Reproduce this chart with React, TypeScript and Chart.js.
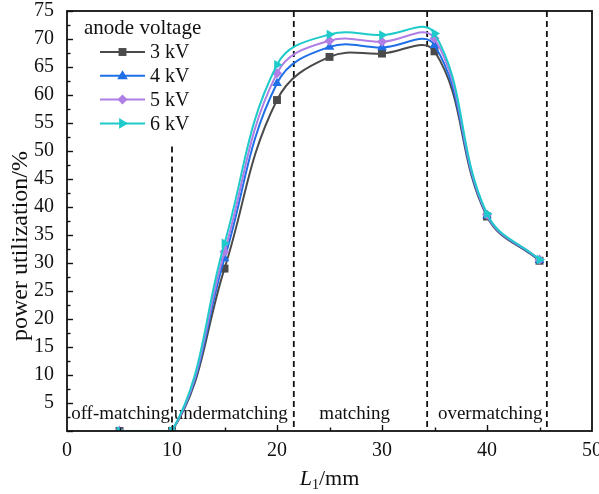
import React, { useEffect, useRef } from 'react';
import { Chart, registerables } from 'chart.js';

Chart.register(...registerables);

// ---- data ----
const xValues = [5, 10, 15, 20, 25, 30, 35, 40, 45];
const series3kV = [0, 0, 29.0, 59.1, 66.8, 67.4, 67.8, 38.3, 30.4];
const series4kV = [0, 0, 30.8, 62.1, 68.6, 68.5, 68.9, 38.5, 30.5];
const series5kV = [0, 0, 32.0, 63.9, 69.7, 69.5, 70.1, 38.6, 30.6];
const series6kV = [0, 0, 33.5, 65.4, 70.8, 70.7, 71.0, 38.8, 30.6];
const seriesLabels = ['3 kV', '4 kV', '5 kV', '6 kV'];
const legendTitle = 'anode voltage';

const boundaryX = [10, 21.6, 34.3, 45.7];
const boundaryFromY = [50.8, 75, 75, 75];
const regionLabels = ['off-matching', 'undermatching', 'matching', 'overmatching'];
const regionCenterX = [5.1, 15.6, 27.4, 40.3];
const regionLabelY = 3.1;

const xTitleMain = 'L';
const xTitleSub = '1';
const xTitleUnit = '/mm';
const yTitle = 'power utilization/%';

// ---- styles ----
const seriesData = [series3kV, series4kV, series5kV, series6kV];
const seriesColors = ['#4a4a4a', '#1f6fe6', '#b07fe6', '#1ecaca'];
const seriesMarkers = ['rect', 'triangle', 'rectRot', 'triangleRight'];
const markerRadius = [5.6, 5.6, 5, 5.6];
const SERIF = '"Liberation Serif", "Times New Roman", serif';

function drawMarker(ctx: CanvasRenderingContext2D, type: string, x: number, y: number, r: number, color: string) {
  ctx.save();
  ctx.fillStyle = color;
  ctx.beginPath();
  if (type === 'rect') {
    const s = r * Math.SQRT1_2;
    ctx.rect(x - s, y - s, 2 * s, 2 * s);
  } else if (type === 'rectRot') {
    ctx.moveTo(x, y - r);
    ctx.lineTo(x + r, y);
    ctx.lineTo(x, y + r);
    ctx.lineTo(x - r, y);
    ctx.closePath();
  } else if (type === 'triangle') {
    ctx.moveTo(x, y - r);
    ctx.lineTo(x + r * 0.95, y + r * 0.6);
    ctx.lineTo(x - r * 0.95, y + r * 0.6);
    ctx.closePath();
  } else {
    ctx.moveTo(x + r, y);
    ctx.lineTo(x - r * 0.6, y + r * 0.95);
    ctx.lineTo(x - r * 0.6, y - r * 0.95);
    ctx.closePath();
  }
  ctx.fill();
  ctx.restore();
}

const decorPlugin = {
  id: 'decor',
  beforeDatasetsDraw(chart: any) {
    const { ctx, chartArea, scales } = chart;
    const xs = scales.x;
    const ys = scales.y;
    ctx.save();
    ctx.strokeStyle = '#111';
    ctx.lineWidth = 1.8;
    ctx.setLineDash([6, 4]);
    boundaryX.forEach((bx, i) => {
      const px = xs.getPixelForValue(bx);
      ctx.beginPath();
      ctx.moveTo(px, ys.getPixelForValue(boundaryFromY[i]));
      ctx.lineTo(px, chartArea.bottom);
      ctx.stroke();
    });
    ctx.setLineDash([]);
    ctx.fillStyle = '#111';
    ctx.font = '19px ' + SERIF;
    ctx.textAlign = 'center';
    ctx.textBaseline = 'middle';
    regionLabels.forEach((t, i) => {
      ctx.fillText(t, xs.getPixelForValue(regionCenterX[i]), ys.getPixelForValue(regionLabelY));
    });
    ctx.restore();
  },
  afterDatasetsDraw(chart: any) {
    const { ctx, chartArea, scales } = chart;
    const xs = scales.x;
    const ys = scales.y;
    ctx.save();
    ctx.strokeStyle = '#111';
    ctx.lineWidth = 1.8;
    ctx.strokeRect(chartArea.left, chartArea.top, chartArea.right - chartArea.left, chartArea.bottom - chartArea.top);
    ctx.lineWidth = 1.4;
    for (let v = 0; v <= 75; v += 2.5) {
      const py = Math.round(ys.getPixelForValue(v)) + 0.5;
      const len = v % 5 === 0 ? 6 : 3.5;
      ctx.beginPath();
      ctx.moveTo(chartArea.left, py);
      ctx.lineTo(chartArea.left + len, py);
      ctx.stroke();
    }
    for (let v = 5; v < 50; v += 5) {
      const px = Math.round(xs.getPixelForValue(v)) + 0.5;
      const len = v % 10 === 0 ? 6 : 3.5;
      ctx.beginPath();
      ctx.moveTo(px, chartArea.bottom);
      ctx.lineTo(px, chartArea.bottom - len);
      ctx.stroke();
    }
    ctx.restore();
  },
  afterDraw(chart: any) {
    const { ctx, chartArea } = chart;
    ctx.save();
    ctx.fillStyle = '#111';
    ctx.textBaseline = 'middle';
    ctx.textAlign = 'left';
    ctx.font = '21px ' + SERIF;
    ctx.fillText(legendTitle, 84, 28);
    ctx.font = '20px ' + SERIF;
    seriesLabels.forEach((lab, i) => {
      const y = 52 + i * 23.8;
      ctx.strokeStyle = seriesColors[i];
      ctx.lineWidth = 2;
      ctx.beginPath();
      ctx.moveTo(100, y);
      ctx.lineTo(145, y);
      ctx.stroke();
      drawMarker(ctx, seriesMarkers[i], 122.5, y, markerRadius[i], seriesColors[i]);
      ctx.fillStyle = '#111';
      ctx.fillText(lab, 150, y + 1);
    });
    const cx = (chartArea.left + chartArea.right) / 2;
    const base = 485;
    ctx.textBaseline = 'alphabetic';
    ctx.font = 'italic 22px ' + SERIF;
    const wL = ctx.measureText(xTitleMain).width;
    ctx.font = '14px ' + SERIF;
    const w1 = ctx.measureText(xTitleSub).width;
    ctx.font = '22px ' + SERIF;
    const wU = ctx.measureText(xTitleUnit).width;
    let sx = cx - (wL + w1 + wU) / 2;
    ctx.font = 'italic 22px ' + SERIF;
    ctx.fillText(xTitleMain, sx, base);
    sx += wL;
    ctx.font = '14px ' + SERIF;
    ctx.fillText(xTitleSub, sx, base + 4);
    sx += w1;
    ctx.font = '22px ' + SERIF;
    ctx.fillText(xTitleUnit, sx, base);
    ctx.translate(21, 246);
    ctx.rotate(-Math.PI / 2);
    ctx.textAlign = 'center';
    ctx.textBaseline = 'middle';
    ctx.font = '24px ' + SERIF;
    ctx.fillText(yTitle, 0, 0);
    ctx.restore();
  },
};

export default function App() {
  const canvasRef = useRef<HTMLCanvasElement>(null);
  useEffect(() => {
    const canvas = canvasRef.current;
    if (!canvas) return;
    const datasets = seriesData.map((vals, i) => ({
      label: seriesLabels[i],
      data: xValues.map((x, j) => ({ x, y: vals[j] })),
      borderColor: seriesColors[i],
      backgroundColor: seriesColors[i],
      borderWidth: 2,
      pointStyle: seriesMarkers[i] === 'triangleRight' ? 'triangle' : seriesMarkers[i],
      rotation: seriesMarkers[i] === 'triangleRight' ? 90 : 0,
      pointRadius: markerRadius[i],
      pointBorderWidth: 0,
      tension: 0.4,
      clip: 0,
      order: 3 - i,
    }));
    const chart = new Chart(canvas, {
      type: 'line',
      data: { datasets },
      plugins: [decorPlugin],
      options: {
        animation: false,
        responsive: false,
        devicePixelRatio: 1,
        layout: { padding: { top: 11, right: 7, left: 0, bottom: 0 } },
        plugins: { legend: { display: false }, tooltip: { enabled: false } },
        scales: {
          x: {
            type: 'linear',
            min: 0,
            max: 50,
            grid: { display: false },
            border: { display: false },
            ticks: { stepSize: 10, padding: 0, color: '#111', font: { family: SERIF, size: 20 } },
            afterFit: (s: any) => { s.height = 63; s.paddingLeft = 0; s.paddingRight = 0; },
          },
          y: {
            type: 'linear',
            min: 0,
            max: 75,
            grid: { display: false },
            border: { display: false },
            ticks: {
              stepSize: 5,
              padding: 5,
              color: '#111',
              font: { family: SERIF, size: 20 },
              callback: (v: any) => (v === 0 ? '' : String(v)),
            },
            afterFit: (s: any) => { s.width = 67; s.paddingTop = 0; s.paddingBottom = 0; },
          },
        },
      },
    });
    return () => chart.destroy();
  }, []);
  return (
    <div style={{ position: 'fixed', left: 0, top: 0, width: 599, height: 494, background: '#fff' }}>
      <canvas ref={canvasRef} width={599} height={494} style={{ width: 599, height: 494 }} />
    </div>
  );
}
